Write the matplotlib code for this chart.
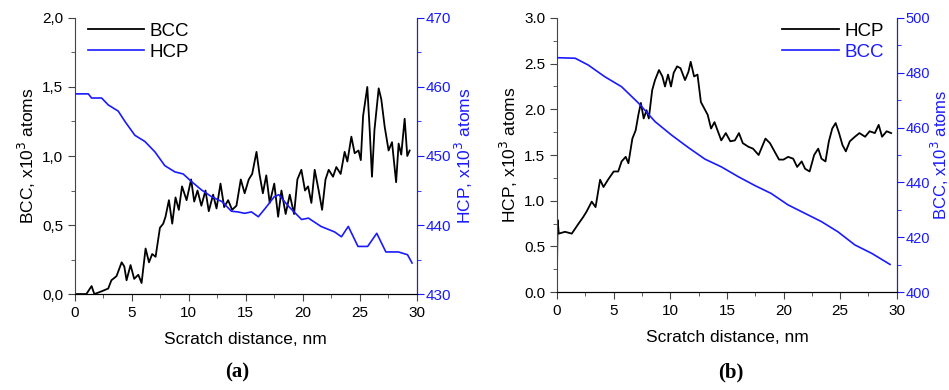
import matplotlib
matplotlib.use("Agg")
import matplotlib.pyplot as plt
from matplotlib.ticker import MultipleLocator, FuncFormatter

plt.rcParams['font.family'] = ['Liberation Sans', 'DejaVu Sans']

BLUE = '#1a1aff'

# panel (a): BCC (left axis, x10^3) and HCP (right axis, x10^3)
a_bcc_x = [0, 1.0, 1.46, 1.7, 2.34, 2.92, 3.2, 3.65, 4.1, 4.33, 4.53, 4.88, 5.2, 5.56, 5.85,
           6.2, 6.5, 6.78, 7.08, 7.46, 7.75, 7.95, 8.25, 8.54, 8.83, 9.12, 9.4, 9.8, 10.2,
           10.47, 10.76, 11.1, 11.46, 11.75, 12.13, 12.43, 12.78, 13.1, 13.45, 13.8, 14.18,
           14.56, 14.9, 15.26, 15.56, 15.94, 16.2, 16.5, 16.8, 17.1, 17.5, 17.84, 18.13,
           18.5, 18.86, 19.24, 19.53, 19.88, 20.2, 20.47, 20.76, 21.05, 21.4, 21.7, 22.0,
           22.28, 22.66, 22.95, 23.33, 23.68, 23.92, 24.27, 24.56, 24.9, 25.1, 25.3, 25.67,
           25.88, 26.08, 26.3, 26.67, 26.9, 27.2, 27.54, 27.84, 28.2, 28.42, 28.65, 28.95,
           29.18, 29.39]
a_bcc_y = [0, 0, 0.058, 0, 0.02, 0.04, 0.10, 0.13, 0.23, 0.20, 0.10, 0.21, 0.11, 0.14, 0.08,
           0.33, 0.23, 0.29, 0.27, 0.48, 0.51, 0.56, 0.68, 0.51, 0.70, 0.61, 0.78, 0.68, 0.83,
           0.67, 0.75, 0.64, 0.75, 0.60, 0.72, 0.62, 0.80, 0.63, 0.68, 0.61, 0.64,
           0.83, 0.73, 0.83, 0.87, 1.03, 0.87, 0.73, 0.86, 0.66, 0.80, 0.56, 0.75,
           0.58, 0.72, 0.58, 0.83, 0.90, 0.75, 0.78, 0.66, 0.90, 0.75, 0.61, 0.83,
           0.90, 0.85, 0.92, 0.87, 1.03, 0.96, 1.14, 1.02, 1.04, 0.97, 1.29, 1.50,
           1.19, 0.85, 1.19, 1.49, 1.41, 1.21, 1.04, 1.10, 0.81, 1.09, 1.01, 1.27,
           1.00, 1.04]

a_hcp_x = [0, 1.17, 1.46, 2.34, 2.92, 3.8, 4.39, 5.26, 6.14, 7.02, 7.89, 8.77, 9.5, 10.23,
           11.1, 12.0, 12.9, 13.74, 14.3, 14.9, 15.5, 16.1, 16.7, 17.5, 17.9, 18.7, 19.9,
           20.5, 21.6, 22.8, 23.4, 24.0, 24.85, 25.7, 26.5, 27.3, 28.4, 29.2, 29.6]
a_hcp_y = [459.0, 459.0, 458.4, 458.4, 457.4, 456.5, 455.0, 453.0, 452.1, 450.6, 448.6, 447.7,
           447.4, 446.3, 445.1, 444.1, 443.4, 442.0, 441.9, 441.7, 441.9, 441.2, 442.4, 444.1,
           444.4, 442.8, 440.8, 441.0, 439.8, 439.0, 438.3, 439.8, 436.9, 436.9, 438.8, 436.1,
           436.1, 435.7, 434.5]

# panel (b): HCP (left axis) and BCC (right axis)
b_hcp_x = [0, 0.05, 0.15, 0.7, 1.3, 1.9, 2.3, 2.6, 3.06, 3.4, 3.8, 4.1, 4.5, 5.0, 5.4, 5.7,
           6.06, 6.3, 6.65, 6.94, 7.18, 7.4, 7.65, 7.9, 8.1, 8.4, 8.65, 9.0, 9.3, 9.53, 9.8,
           10.06, 10.3, 10.6, 10.9, 11.3, 11.6, 11.8, 12.1, 12.4, 12.7, 13.0, 13.3, 13.6,
           13.9, 14.2, 14.5, 14.9, 15.3, 15.7, 16.06, 16.4, 16.9, 17.3, 17.8, 18.1, 18.4,
           18.8, 19.2, 19.6, 20.0, 20.4, 20.85, 21.2, 21.6, 21.9, 22.3, 22.7, 23.06, 23.35,
           23.7, 24.0, 24.3, 24.6, 24.9, 25.2, 25.5, 25.85, 26.3, 26.7, 27.2, 27.6, 28.06,
           28.4, 28.7, 29.1, 29.5]
b_hcp_y = [0.30, 0.79, 0.64, 0.66, 0.64, 0.75, 0.82, 0.88, 0.99, 0.93, 1.23, 1.15, 1.23, 1.32,
           1.32, 1.43, 1.48, 1.41, 1.68, 1.77, 1.94, 2.07, 1.90, 1.99, 1.90, 2.21, 2.32, 2.43,
           2.36, 2.25, 2.38, 2.25, 2.40, 2.47, 2.45, 2.32, 2.41, 2.52, 2.36, 2.38, 2.08, 2.01,
           1.94, 1.79, 1.86, 1.76, 1.66, 1.74, 1.65, 1.66, 1.74, 1.63, 1.59, 1.57, 1.50, 1.59,
           1.68, 1.63, 1.54, 1.45, 1.45, 1.48, 1.46, 1.37, 1.43, 1.35, 1.32, 1.50, 1.57, 1.46,
           1.43, 1.65, 1.79, 1.85, 1.74, 1.61, 1.54, 1.65, 1.70, 1.74, 1.70, 1.76, 1.74,
           1.83, 1.70, 1.76, 1.74]

b_bcc_x = [0, 1.6, 2.76, 4.2, 5.7, 7.2, 8.65, 10.1, 11.6, 13.06, 14.5, 16.0, 17.5, 18.9,
           20.4, 21.9, 23.35, 24.8, 26.3, 27.8, 29.4]
b_bcc_y = [485.5, 485.3, 482.8, 478.6, 474.9, 468.9, 462.2, 457.3, 452.7, 448.5, 445.7, 442.1,
           438.8, 436.0, 431.8, 428.7, 425.7, 422.0, 417.2, 414.1, 410.1]

comma = FuncFormatter(lambda v, p: ('%.1f' % v).replace('.', ','))

fig = plt.figure(figsize=(9.49, 3.9), dpi=100)
ax_a = fig.add_axes([0.079, 0.246, 0.360, 0.708])
ax_b = fig.add_axes([0.587, 0.251, 0.358, 0.703])


def setup(ax, ylim, ymaj, ymin, ylabel):
    ax.set_xlim(0, 30)
    ax.set_ylim(*ylim)
    ax.xaxis.set_major_locator(MultipleLocator(5))
    ax.xaxis.set_minor_locator(MultipleLocator(2.5))
    ax.yaxis.set_major_locator(MultipleLocator(ymaj))
    ax.yaxis.set_minor_locator(MultipleLocator(ymin))
    ax.tick_params(which='major', length=5, labelsize=11, color='#444444')
    ax.tick_params(which='minor', length=3, color='#444444')
    ax.spines['top'].set_visible(False)
    ax.spines['left'].set_color('#444444')
    ax.spines['bottom'].set_color('#222222')
    ax.set_xlabel('Scratch distance, nm', fontsize=12.5, labelpad=9)
    ax.set_ylabel(ylabel, fontsize=12.5, labelpad=3)


def setup_twin(tw, ylim, ymaj, ymin, ylabel, size=12.5, ticksize=11):
    tw.set_ylim(*ylim)
    tw.yaxis.set_major_locator(MultipleLocator(ymaj))
    tw.yaxis.set_minor_locator(MultipleLocator(ymin))
    tw.tick_params(which='major', length=5, labelsize=ticksize, colors=BLUE, pad=1.5)
    tw.tick_params(which='minor', length=3, colors=BLUE)
    tw.spines['top'].set_visible(False)
    tw.spines['left'].set_visible(False)
    tw.spines['right'].set_color(BLUE)
    tw.set_ylabel(ylabel, fontsize=size, color=BLUE, labelpad=1)


# (a)
setup(ax_a, (0, 2.0), 0.5, 0.25, 'BCC, x10$^3$ atoms')
ax_a.yaxis.set_major_formatter(comma)
l1, = ax_a.plot(a_bcc_x, a_bcc_y, color='black', lw=1.3, label='BCC')
tw_a = ax_a.twinx()
setup_twin(tw_a, (430, 470), 10, 5, 'HCP, x10$^3$ atoms')
l2, = tw_a.plot(a_hcp_x, a_hcp_y, color=BLUE, lw=1.2, label='HCP')
tw_a.legend([l1, l2], ['BCC', 'HCP'], loc='upper left', frameon=False, fontsize=13.5,
            handlelength=3.0, handletextpad=0.3, labelspacing=0.2,
            bbox_to_anchor=(0.0, 1.03), borderaxespad=0.3)

# (b)
setup(ax_b, (0, 3.0), 0.5, 0.25, 'HCP, x10$^3$ atoms')
ax_b.yaxis.set_major_formatter(FuncFormatter(lambda v, p: '%.1f' % v))
l3, = ax_b.plot(b_hcp_x, b_hcp_y, color='black', lw=1.3, label='HCP')
tw_b = ax_b.twinx()
setup_twin(tw_b, (400, 500), 20, 10, 'BCC, x10$^3$ atoms', size=12, ticksize=10.5)
tw_b.yaxis.set_label_coords(1.094, 0.5)
l4, = tw_b.plot(b_bcc_x, b_bcc_y, color=BLUE, lw=1.2, label='BCC')
leg = tw_b.legend([l3, l4], ['HCP', 'BCC'], loc='upper right', frameon=False, fontsize=13.5,
                  handlelength=3.0, handletextpad=0.3, labelspacing=0.2,
                  bbox_to_anchor=(1.0, 1.03), borderaxespad=0.3)
leg.get_texts()[1].set_color(BLUE)

fig.text(0.25, 0.045, '(a)', ha='center', va='center', fontsize=15,
         family='Liberation Serif', fontweight='bold')
fig.text(0.77, 0.045, '(b)', ha='center', va='center', fontsize=15,
         family='Liberation Serif', fontweight='bold')

fig.savefig('out.png', dpi=100)
